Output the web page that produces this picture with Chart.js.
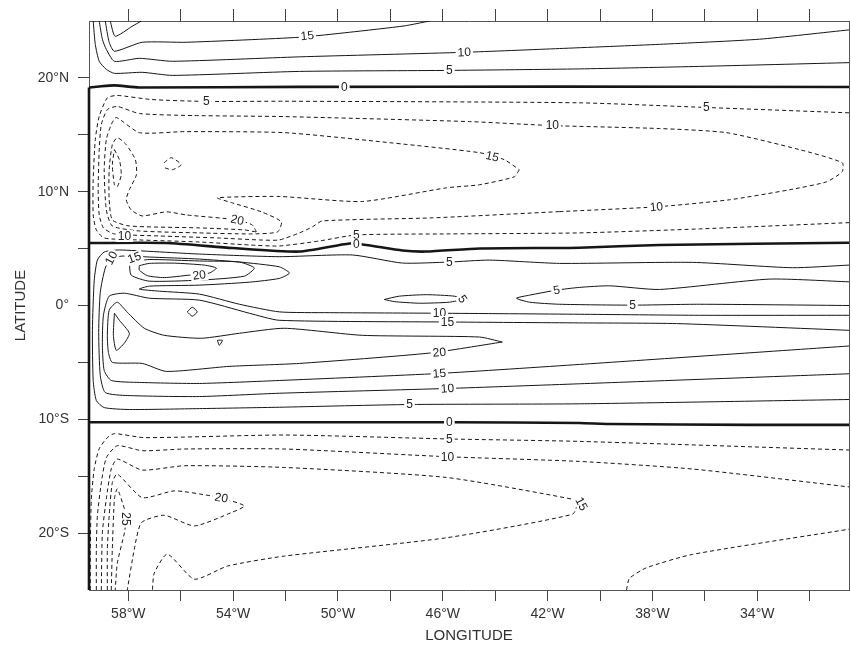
<!DOCTYPE html>
<html>
<head>
<meta charset="utf-8">
<script src="https://cdn.jsdelivr.net/npm/chart.js@4.4.1/dist/chart.umd.min.js"></script>
<style>
  html, body { margin: 0; padding: 0; background: #fff; }
  canvas { display: block; background: #fff; }
</style>
</head>
<body>
<canvas id="chart" width="851" height="645"></canvas>
<script>
// Axis ticks (degrees; west longitudes negative)
const LON_TICKS = [-58, -56, -54, -52, -50, -48, -46, -44, -42, -40, -38, -36, -34, -32];
const LAT_TICKS = [-20, -15, -10, -5, 0, 5, 10, 15, 20];

// Contour lines as [longitude, latitude] vertices.
// Zero contour running along the western boundary
const WEST_ZERO = [[-59.5,19.16],[-59.5,-25]];

// Northern band (positive, solid)
const NORTH_ZERO = [[-59.5,19.16],[-59.11,19.25],[-58.53,19.34],[-57.58,19.16],[-51.47,19.21],[-41.55,19.23],[-30.5,19.2]];
const NORTH_POS5 = [[-59.34,25],[-59.26,22.95],[-59.11,21.46],[-58.84,20.75],[-58.53,20.40],[-57.47,20.49],[-56.32,20.22],[-51.47,20.57],[-45.75,20.66],[-40.79,20.79],[-36.21,21.01],[-30.5,21.34]];
const NORTH_POS10 = [[-59.11,25],[-58.99,23.40],[-58.84,22.51],[-58.53,21.46],[-57.58,21.72],[-56.32,21.46],[-51.47,21.85],[-45.18,22.25],[-41.55,22.58],[-37.73,22.95],[-33.92,23.40],[-30.5,24.22]];
const NORTH_POS15 = [[-58.88,25],[-58.73,23.13],[-58.53,22.34],[-57.47,23.13],[-55.79,23.13],[-51.47,23.57],[-49.56,24.01],[-47.47,24.57],[-46.5,25]];
const NORTH_POS20 = [[-58.69,25],[-58.50,23.66],[-57.85,24.54],[-57.50,25]];

// Northern gyre (negative, dashed)
const NORTH_NEG5 = [[-30.5,16.93],[-35.94,17.40],[-40.79,17.81],[-52.05,17.95],[-54.98,17.93],[-57.12,18.10],[-58.42,18.46],[-58.80,18.25],[-59.11,16.63],[-59.26,14.58],[-59.34,11.05],[-59.34,7.96],[-59.22,6.64],[-58.92,5.93],[-57.58,5.76],[-55.29,5.58],[-53.38,5.32],[-52.24,5.23],[-50.71,5.67],[-49.30,6.20],[-45.75,6.29],[-40.79,6.38],[-36.21,6.73],[-30.5,7.28]];
const NORTH_NEG10 = [[-41.55,8.25],[-37.85,8.67],[-35.06,9.29],[-32.77,10.17],[-31.36,10.87],[-30.76,11.75],[-30.76,12.55],[-32.39,13.70],[-35.18,15.19],[-37.73,15.55],[-41.82,15.81],[-44.98,16.16],[-52.05,16.60],[-55.48,16.69],[-57.58,16.87],[-58.42,17.49],[-58.80,17.22],[-59.03,15.90],[-59.11,13.70],[-59.15,10.17],[-59.11,7.96],[-58.95,6.82],[-58.53,6.29],[-56.82,6.11],[-54.53,5.93],[-53.0,5.76],[-52.24,5.76],[-51.47,6.38],[-50.98,6.90],[-50.60,7.43],[-46.40,7.70],[-41.55,8.25]];
const NORTH_NEG15 = [[-43.08,11.93],[-43.27,11.31],[-44.60,10.61],[-45.86,10.34],[-49.07,9.14],[-52.24,9.58],[-54.60,9.46],[-54.03,9.02],[-52.92,8.23],[-52.16,7.35],[-52.31,6.46],[-53.38,6.29],[-55.29,6.38],[-57.58,6.55],[-58.61,6.99],[-58.84,8.40],[-58.92,11.93],[-58.84,14.58],[-58.65,15.90],[-58.46,16.52],[-57.58,15.19],[-55.86,15.28],[-52.05,15.19],[-48.42,14.40],[-44.60,13.43],[-43.65,12.81],[-43.08,11.93]];
const NORTH_NEG20 = [[-53.11,6.46],[-53.27,7.08],[-53.84,7.52],[-55.79,7.96],[-56.55,8.23],[-57.47,7.87],[-57.89,8.40],[-58.08,9.29],[-57.96,10.17],[-57.69,11.49],[-57.73,12.81],[-58.08,14.14],[-58.42,14.75],[-58.61,14.14],[-58.73,11.93],[-58.73,9.29],[-58.61,7.52],[-57.96,6.99],[-55.29,6.82],[-53.57,6.64],[-53.11,6.46]];
const NORTH_NEG25 = [[-58.53,13.70],[-58.34,12.81],[-58.27,11.49],[-58.42,10.43],[-58.53,10.61],[-58.61,12.37],[-58.53,13.70]];
const NORTH_NEG20_CELL = [[-56.63,12.55],[-56.36,12.99],[-55.98,12.37],[-56.32,11.93],[-56.63,12.11]];

// Equatorial band (positive, solid)
const EQ_ZERO = [[-59.5,5.49],[-56.55,5.49],[-54.03,5.05],[-51.47,4.74],[-49.56,5.45],[-48.92,5.32],[-47.54,4.83],[-46.63,4.74],[-44.60,5.01],[-40.79,5.08],[-37.73,5.32],[-30.5,5.52]];
const EQ_POS5 = [[-30.5,3.55],[-32.66,3.32],[-36.47,3.79],[-41.55,3.70],[-44.22,3.99],[-45.75,3.82],[-47.54,3.73],[-49.45,4.44],[-52.24,4.29],[-55.29,4.52],[-58.34,4.88],[-58.92,4.70],[-59.18,3.99],[-59.30,2.23],[-59.37,-2.18],[-59.34,-6.59],[-59.22,-8.35],[-58.92,-8.97],[-57.96,-9.14],[-55.29,-9.06],[-52.24,-8.94],[-47.27,-8.70],[-40.79,-8.64],[-30.5,-8.26]];
const EQ_POS5_EAST = [[-30.5,2.08],[-33.53,2.32],[-37.73,1.41],[-39.64,1.73],[-40.79,1.59],[-41.66,1.35],[-42.69,0.91],[-43.19,0.64],[-42.69,0.29],[-41.55,0.11],[-38.76,0.03],[-36.21,0.11],[-30.5,0.0]];
const EQ_POS5_CELL = [[-48.23,0.53],[-47.66,0.82],[-46.63,0.95],[-45.56,0.82],[-45.25,0.56],[-45.75,0.29],[-46.89,0.20],[-47.85,0.34],[-48.23,0.53]];
const EQ_POS10 = [[-30.5,-0.86],[-36.21,-0.86],[-40.79,-0.77],[-46.13,-0.68],[-50.33,-0.63],[-52.24,-0.56],[-53.76,0.11],[-55.29,1.0],[-56.82,1.26],[-57.58,1.44],[-57.20,1.70],[-55.29,1.79],[-53.38,2.05],[-52.24,2.38],[-51.85,2.85],[-52.24,3.40],[-53.76,3.82],[-55.29,4.08],[-57.20,4.26],[-58.15,4.35],[-58.65,4.17],[-58.88,3.29],[-59.07,1.17],[-59.13,-2.35],[-59.07,-6.15],[-58.88,-7.65],[-58.04,-7.91],[-55.29,-8.0],[-52.24,-7.71],[-45.82,-7.29],[-40.79,-6.88],[-30.5,-6.00]];
const EQ_POS15 = [[-30.5,-2.18],[-37.08,-1.59],[-40.79,-1.53],[-45.82,-1.45],[-52.24,-1.30],[-53.38,-0.68],[-55.29,0.47],[-57.20,0.64],[-58.15,1.08],[-58.73,0.82],[-58.95,-0.86],[-58.99,-3.50],[-58.92,-5.71],[-58.65,-6.59],[-57.58,-6.76],[-55.29,-6.85],[-52.24,-6.59],[-46.13,-5.97],[-40.79,-5.18],[-30.5,-3.56]];
const EQ_POS15_CELL = [[-57.96,3.82],[-57.20,4.04],[-55.29,3.91],[-53.76,3.82],[-53.19,3.29],[-53.57,2.58],[-55.29,2.23],[-57.20,2.14],[-57.89,2.67],[-57.96,3.82]];
const EQ_POS20_NORTH = [[-57.58,3.50],[-57.20,3.70],[-56.24,3.72],[-55.10,3.55],[-54.64,3.29],[-54.91,2.85],[-55.67,2.67],[-56.63,2.45],[-57.27,2.62],[-57.58,3.11],[-57.58,3.50]];
const EQ_POS20_SOUTH = [[-43.73,-3.21],[-44.60,-2.77],[-49.07,-2.62],[-52.05,-2.0],[-53.76,-2.44],[-55.21,-2.88],[-56.63,-2.62],[-57.39,-2.0],[-58.04,-0.59],[-58.42,0.29],[-58.73,-0.41],[-58.80,-2.62],[-58.76,-4.12],[-58.61,-5.0],[-57.47,-5.09],[-56.55,-5.79],[-54.15,-5.35],[-51.47,-5.09],[-46.51,-4.18],[-43.73,-3.21]];
const EQ_POS20_CELL = [[-55.75,-0.56],[-55.56,-0.15],[-55.37,-0.56],[-55.56,-0.94],[-55.75,-0.56]];
const EQ_POS25_WEST = [[-58.53,-0.68],[-58.34,-1.30],[-57.96,-2.44],[-58.15,-3.3],[-58.46,-3.94],[-58.57,-2.62],[-58.53,-0.68]];
const EQ_POS25_DOT = [[-54.6,-3.06],[-54.41,-3.06],[-54.53,-3.50],[-54.6,-3.06]];

// Southern gyre (negative, dashed)
const SOUTH_ZERO = [[-59.5,-10.26],[-52.24,-10.26],[-45.75,-10.26],[-40.79,-10.32],[-39.64,-10.41],[-34.30,-10.49],[-30.5,-10.49]];
const SOUTH_NEG5 = [[-59.45,-25],[-59.45,-21.40],[-59.41,-17.0],[-59.30,-14.35],[-59.11,-12.58],[-58.80,-11.61],[-58.53,-11.26],[-57.39,-11.61],[-52.05,-11.38],[-45.75,-11.73],[-40.79,-11.94],[-30.5,-12.70]];
const SOUTH_NEG10 = [[-59.22,-25],[-59.22,-21.40],[-59.18,-18.49],[-59.03,-15.58],[-58.84,-13.38],[-58.42,-12.32],[-57.47,-12.76],[-55.86,-12.61],[-52.05,-12.61],[-45.82,-13.29],[-40.79,-13.70],[-36.47,-14.37],[-30.5,-15.94]];
const SOUTH_NEG15 = [[-59.03,-25],[-58.99,-20.0],[-58.84,-17.0],[-58.65,-14.35],[-58.42,-13.49],[-57.47,-14.46],[-55.86,-14.08],[-52.05,-14.23],[-45.86,-15.11],[-41.05,-17.02],[-40.86,-17.32],[-41.05,-18.34],[-45.86,-20.41],[-52.05,-22.02],[-54.22,-22.90],[-55.48,-24.05],[-56.51,-21.84],[-57.01,-23.52],[-57.08,-25]];
const SOUTH_NEG20 = [[-58.80,-25],[-58.80,-21.40],[-58.73,-18.49],[-58.61,-15.56],[-58.42,-14.81],[-57.47,-16.88],[-56.24,-16.29],[-54.83,-16.73],[-54.45,-16.91],[-53.57,-17.61],[-54.07,-18.20],[-55.48,-19.37],[-56.63,-18.43],[-57.50,-19.08],[-57.77,-21.40],[-58.04,-25]];
const SOUTH_NEG25 = [[-58.65,-25],[-58.61,-21.40],[-58.53,-16.99],[-58.42,-16.11],[-58.15,-17.87],[-58.08,-18.76],[-58.15,-19.99],[-58.42,-22.64],[-58.50,-25]];
const SOUTH_NEG10_EAST = [[-38.99,-25],[-38.88,-23.99],[-38.23,-23.05],[-36.47,-21.87],[-30.5,-19.66]];

// Contour labels: text, longitude, latitude, rotation (deg)
const LABEL_TEXT = ['15','10','5','0','5','5','10','15','10','20','10','5','0','10','15','20','5','5','5','5','10','15','20','15','10','5','0','5','10','15','20','25'];
const LABEL_LON  = [-51.17,-45.18,-45.75,-49.76,-55.02,-35.94,-41.82,-44.11,-37.85,-53.84,-58.15,-49.30,-49.30,-58.65,-57.77,-55.29,-45.75,-41.66,-45.25,-38.76,-46.13,-45.82,-46.13,-46.13,-45.82,-47.27,-45.75,-45.75,-45.82,-40.71,-54.45,-58.08];
const LABEL_LAT  = [23.70,22.25,20.66,19.21,17.95,17.40,15.81,13.10,8.67,7.52,6.11,6.20,5.36,4.17,4.20,2.67,3.82,1.35,0.56,0.03,-0.68,-1.45,-4.12,-5.97,-7.29,-8.70,-10.26,-11.73,-13.29,-17.43,-16.9,-18.76];
const LABEL_ROT  = [-6,-3,0,0,0,0,0,12,-6,12,0,0,0,-62,-20,-8,0,-10,55,0,0,0,-5,-5,-4,0,0,0,0,62,10,90];

const INK = '#161616';
const ZERO_LINES = [WEST_ZERO, NORTH_ZERO, EQ_ZERO, SOUTH_ZERO];
const SOLID = [...ZERO_LINES, NORTH_POS5, NORTH_POS10, NORTH_POS15, NORTH_POS20,
  EQ_POS5, EQ_POS5_EAST, EQ_POS5_CELL, EQ_POS10, EQ_POS15, EQ_POS15_CELL,
  EQ_POS20_NORTH, EQ_POS20_SOUTH, EQ_POS20_CELL, EQ_POS25_WEST, EQ_POS25_DOT];
const DASHED = [NORTH_NEG5, NORTH_NEG10, NORTH_NEG15, NORTH_NEG20, NORTH_NEG25, NORTH_NEG20_CELL,
  SOUTH_NEG5, SOUTH_NEG10, SOUTH_NEG15, SOUTH_NEG20, SOUTH_NEG25, SOUTH_NEG10_EAST];

function lineDataset(points, dashed) {
  const thick = ZERO_LINES.includes(points);
  return {
    data: points.map(([x, y]) => ({ x, y })),
    showLine: true,
    borderColor: INK,
    borderWidth: thick ? 2.6 : 1,
    borderDash: dashed ? [4, 3] : [],
    pointRadius: 0,
    tension: 0.2,
    fill: false,
    // let the heavy zero contours show their full width on the frame
    clip: thick ? { left: 2, right: 0, top: 0, bottom: 0 } : 0
  };
}

const datasets = [
  ...SOLID.map(p => lineDataset(p, false)),
  ...DASHED.map(p => lineDataset(p, true))
];

// Contour value labels, drawn on a white patch that breaks the line
const contourLabels = {
  id: 'contourLabels',
  afterDatasetsDraw(chart) {
    const { ctx, scales: { x, y } } = chart;
    ctx.save();
    ctx.font = '12px "Liberation Sans", Arial, sans-serif';
    ctx.textAlign = 'center';
    ctx.textBaseline = 'middle';
    LABEL_TEXT.forEach((t, i) => {
      const px = x.getPixelForValue(LABEL_LON[i]);
      const py = y.getPixelForValue(LABEL_LAT[i]);
      const w = ctx.measureText(t).width;
      ctx.save();
      ctx.translate(px, py);
      ctx.rotate(LABEL_ROT[i] * Math.PI / 180);
      ctx.fillStyle = '#fff';
      ctx.fillRect(-w / 2 - 2, -6, w + 4, 12);
      ctx.fillStyle = '#222';
      ctx.fillText(t, 0, 0.5);
      ctx.restore();
    });
    ctx.restore();
  }
};

const FONT_FAMILY = '"Liberation Sans", Arial, Helvetica, sans-serif';
const setLonTicks = s => { s.ticks = LON_TICKS.map(v => ({ value: v })); };
const setLatTicks = s => { s.ticks = LAT_TICKS.map(v => ({ value: v })); };

new Chart(document.getElementById('chart'), {
  type: 'scatter',
  data: { datasets },
  options: {
    responsive: false,
    animation: false,
    events: [],
    layout: { padding: 0 },
    plugins: { legend: { display: false }, tooltip: { enabled: false } },
    scales: {
      x: {
        type: 'linear', position: 'bottom', min: -59.5, max: -30.5,
        afterBuildTicks: setLonTicks,
        afterFit: s => { s.height = 55; },
        ticks: {
          autoSkip: false, maxRotation: 0, padding: 5, color: '#333',
          font: { family: FONT_FAMILY, size: 14 },
          callback: v => (Math.abs(v) % 4 === 2 ? Math.abs(v) + '°W' : '')
        },
        grid: { drawOnChartArea: false, drawTicks: true, tickLength: 11, color: '#444' },
        border: { display: true, color: '#555', width: 1 },
        title: { display: true, text: 'LONGITUDE', color: '#333', font: { family: FONT_FAMILY, size: 15 }, padding: { top: 0, bottom: 0 } }
      },
      xTop: {
        type: 'linear', position: 'top', min: -59.5, max: -30.5,
        afterBuildTicks: setLonTicks,
        afterFit: s => { s.height = 21; },
        ticks: { autoSkip: false, maxRotation: 0, callback: () => '' },
        grid: { drawOnChartArea: false, drawTicks: true, tickLength: 12, color: '#444' },
        border: { display: true, color: '#555', width: 1 }
      },
      y: {
        type: 'linear', position: 'left', min: -25, max: 25,
        afterBuildTicks: setLatTicks,
        afterFit: s => { s.width = 89; },
        ticks: {
          autoSkip: false, padding: 9, color: '#333',
          font: { family: FONT_FAMILY, size: 14 },
          callback: v => (v === 0 ? '0°' : (v % 10 === 0 ? Math.abs(v) + '°' + (v > 0 ? 'N' : 'S') : ''))
        },
        grid: { drawOnChartArea: false, drawTicks: true, tickLength: 11, color: '#444' },
        border: { display: true, color: '#555', width: 1 },
        title: { display: true, text: 'LATITUDE', color: '#333', font: { family: FONT_FAMILY, size: 15 }, padding: { top: 12, bottom: 0 } }
      },
      yRight: {
        type: 'linear', position: 'right', min: -25, max: 25,
        afterFit: s => { s.width = 2; },
        ticks: { display: false },
        grid: { display: false },
        border: { display: true, color: '#555', width: 1 }
      }
    }
  },
  plugins: [contourLabels]
});
</script>
</body>
</html>
